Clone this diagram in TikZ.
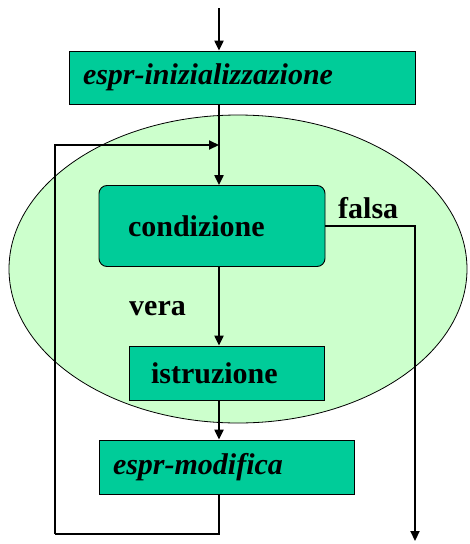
\documentclass[tikz,border=0pt]{standalone}
\usepackage{fontspec}
\setmainfont{Liberation Serif}
\usetikzlibrary{arrows.meta}
\definecolor{boxgreen}{HTML}{00CC99}
\definecolor{ellgreen}{HTML}{CCFFCC}
\tikzset{
  box/.style={draw=black, line width=0.9pt, fill=boxgreen, inner ysep=0pt, align=left,
    font=\fontsize{30}{35}\selectfont\bfseries},
  flow/.style={line width=2.2pt, -{Triangle[length=10pt,width=9pt]}},
  plain/.style={line width=2.2pt},
  lbl/.style={font=\fontsize{30}{35}\selectfont\bfseries, inner sep=0pt, anchor=base west}
}
\begin{document}
\begin{tikzpicture}[x=1pt,y=-1pt]
\useasboundingbox (0,0) rectangle (470,544);
\fill[ellgreen, draw=black, line width=0.8pt] (238,269) ellipse [x radius=229, y radius=154];
\node[box, minimum height=53, inner xsep=14, text width=318] (init) at (242,77.5) {\itshape espr-inizializzazione};
\node[box, rounded corners=8pt, minimum height=81, inner xsep=29, text width=168] (cond) at (212,226) {condizione};
\node[box, minimum height=54, inner xsep=22, text width=151] (istr) at (226.5,373) {istruzione};
\node[box, minimum height=54, inner xsep=14, text width=227] (mod) at (226.5,467) {\itshape espr-modifica};
\node[lbl] (falsa) at (338,218) {falsa};
\node[lbl] (vera) at (129,315) {vera};
\coordinate (start) at (219,8);
\coordinate (loopbl) at (55,534);
\coordinate (loopin) at (219,145);
\coordinate (exit) at (415,541);
\draw[flow] (start) -- (init.north -| start);
\draw[flow] (init.south -| start) -- (cond.north -| start);
\draw[flow] (cond.south -| start) -- (istr.north -| start);
\draw[flow] (istr.south -| start) -- (mod.north -| start);
\draw[plain] (mod.south -| start) |- (loopbl);
\draw[flow] (loopbl) |- (loopin);
\draw[flow] (cond.east) -| (exit);
\end{tikzpicture}
\end{document}
